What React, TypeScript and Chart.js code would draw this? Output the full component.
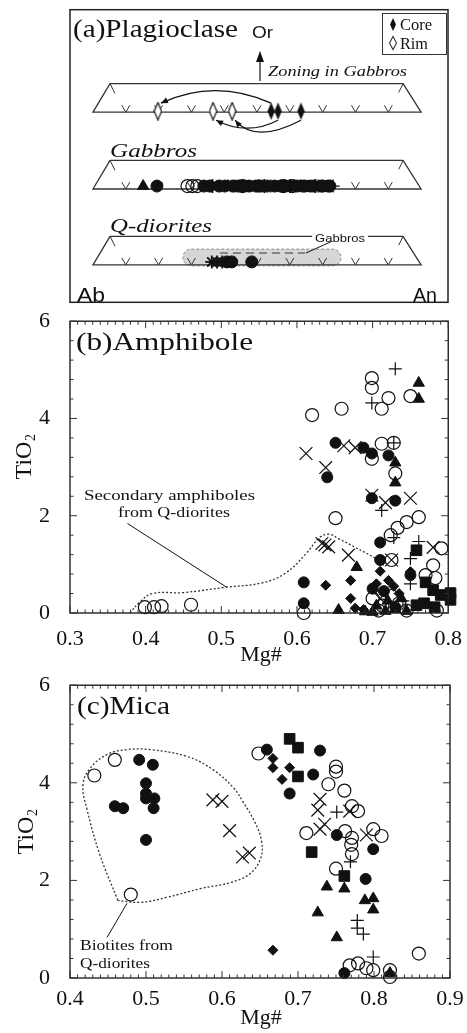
import React, { useEffect, useRef } from 'react';
import { Chart, registerables } from 'chart.js';
Chart.register(...registerables);

const SERIF = '"Liberation Serif", "Times New Roman", serif';
const SANS = '"Liberation Sans", Arial, sans-serif';
const INK = '#111';

// ---------- Panel (a) Plagioclase (An %, schematic rows) ----------
const zoningCoreAn = [54.3, 56.4, 63.4];
const zoningRimAn = [19.8, 36.6, 42.4];
const gabbroOpenCircleAn = [28.8, 30.3, 31.8, 45.5, 58.0, 60.8];
const gabbroFilledCircleAn = [19.5, 33.8, 35.6, 38.4, 40.2, 42.6, 44.2, 46.0, 47.6, 49.6, 50.4, 51.2, 53.0, 55.4, 57.2, 58.6, 62.2, 63.8, 64.6, 66.2, 67.2, 69.6, 70.0, 71.6, 72.2];
const gabbroTriangleAn = [15.3, 41.2, 50.6, 63.2];
const gabbroCrossAn = [37.2, 48.4, 56.2, 66.0, 70.6];
const gabbroPlusAn = [43.2, 54.0, 61.2, 68.6, 73.2];
const gabbroSquareAn = [46.6, 59.2, 65.6, 71.2];
const gabbroStarAn = [36.4, 52.2, 60.0, 67.8];
const qdioriteStarAn = [36.2, 37.8, 39.4];
const qdioriteCircleAn = [40.8, 42.3, 48.4];
const gabbroFieldAn = [27.4, 75.6];
const anTicks = [10, 20, 30, 40, 50, 60, 70, 80, 90];

// ---------- Panel (b) Amphibole: [Mg#, TiO2] ----------
const amphOpenCircle = [[0.399, 0.12], [0.411, 0.12], [0.421, 0.14], [0.46, 0.17], [0.62, 4.07], [0.659, 4.2], [0.699, 4.83], [0.699, 4.63], [0.721, 4.42], [0.712, 4.2], [0.75, 4.46], [0.699, 3.17], [0.712, 3.48], [0.728, 3.5], [0.73, 2.87], [0.651, 1.95], [0.761, 1.97], [0.745, 1.87], [0.733, 1.75], [0.724, 1.6], [0.791, 1.33], [0.725, 1.09], [0.78, 0.98], [0.77, 0.78], [0.783, 0.72], [0.609, 0.0], [0.70, 0.3], [0.713, 0.15], [0.725, 0.35], [0.735, 0.2], [0.745, 0.05], [0.708, 0.05], [0.785, 0.05]];
const amphFilledCircle = [[0.651, 3.5], [0.688, 3.4], [0.699, 3.28], [0.721, 3.24], [0.64, 2.79], [0.699, 2.36], [0.73, 2.31], [0.71, 1.45], [0.71, 1.09], [0.75, 0.78], [0.609, 0.63], [0.609, 0.2], [0.715, 0.45], [0.73, 0.12], [0.70, 0.5]];
const amphTriangle = [[0.761, 4.73], [0.761, 4.4], [0.73, 3.09], [0.73, 2.68], [0.679, 0.94], [0.738, 0.3], [0.655, 0.06], [0.70, 0.02], [0.717, 0.04], [0.73, 0.08], [0.745, 0.04], [0.72, 0.25], [0.705, 0.15], [0.69, 0.03]];
const amphDiamond = [[0.71, 0.86], [0.638, 0.57], [0.671, 0.67], [0.671, 0.3], [0.677, 0.1], [0.688, 0.07], [0.721, 0.67], [0.728, 0.55], [0.75, 0.85], [0.705, 0.6], [0.735, 0.4]];
const amphSquare = [[0.758, 1.29], [0.77, 0.63], [0.78, 0.47], [0.79, 0.37], [0.803, 0.41], [0.803, 0.27], [0.758, 0.16], [0.768, 0.2], [0.782, 0.12]];
const amphPlus = [[0.73, 5.02], [0.699, 4.32], [0.728, 3.5], [0.712, 2.11], [0.728, 1.55], [0.761, 1.47], [0.75, 1.12], [0.75, 0.6], [0.74, 0.25]];
const amphCross = [[0.612, 3.28], [0.662, 3.44], [0.677, 3.4], [0.638, 2.99], [0.699, 2.42], [0.717, 2.27], [0.75, 2.36], [0.633, 1.43], [0.642, 1.36], [0.637, 1.4], [0.668, 1.19], [0.78, 1.35], [0.725, 1.09], [0.71, 0.3]];
const amphSecondaryField = [[0.379, 0.0], [0.392, 0.22], [0.409, 0.4], [0.45, 0.42], [0.506, 0.53], [0.554, 0.62], [0.585, 0.82], [0.612, 1.22], [0.63, 1.55], [0.642, 1.62], [0.656, 1.52], [0.677, 1.35], [0.704, 1.12], [0.715, 0.98]];

// ---------- Panel (c) Mica: [Mg#, TiO2] ----------
const micaOpenCircle = [[0.432, 4.15], [0.459, 4.47], [0.48, 1.71], [0.648, 4.6], [0.75, 4.33], [0.75, 4.23], [0.74, 3.97], [0.761, 3.84], [0.771, 3.52], [0.779, 3.42], [0.711, 2.97], [0.762, 3.01], [0.771, 2.87], [0.77, 2.73], [0.771, 2.54], [0.799, 3.05], [0.81, 2.91], [0.75, 2.24], [0.859, 0.5], [0.768, 0.26], [0.779, 0.3], [0.79, 0.2], [0.799, 0.16], [0.821, 0.16], [0.821, 0.02]];
const micaFilledCircle = [[0.491, 4.47], [0.509, 4.37], [0.5, 3.99], [0.5, 3.78], [0.5, 3.68], [0.511, 3.68], [0.51, 3.48], [0.459, 3.52], [0.47, 3.48], [0.5, 2.83], [0.659, 4.68], [0.689, 3.78], [0.72, 4.17], [0.729, 4.66], [0.751, 2.93], [0.799, 2.64], [0.789, 2.03], [0.761, 0.1]];
const micaDiamond = [[0.667, 4.5], [0.667, 4.31], [0.689, 4.31], [0.679, 4.07], [0.667, 0.57]];
const micaSquare = [[0.689, 4.9], [0.7, 4.72], [0.7, 4.13], [0.718, 2.58], [0.761, 2.09]];
const micaTriangle = [[0.738, 1.87], [0.761, 1.83], [0.788, 1.59], [0.799, 1.63], [0.799, 1.4], [0.726, 1.34], [0.751, 0.83], [0.821, 0.1]];
const micaPlus = [[0.751, 3.4], [0.769, 2.38], [0.778, 1.18], [0.778, 1.02], [0.786, 0.9], [0.799, 0.43]];
const micaCross = [[0.588, 3.65], [0.6, 3.62], [0.61, 3.02], [0.627, 2.48], [0.636, 2.56], [0.729, 3.66], [0.726, 3.44], [0.735, 3.15], [0.729, 3.05], [0.768, 3.42], [0.79, 2.93]];
const micaBiotiteField = [[0.463, 1.59], [0.439, 2.54], [0.422, 3.48], [0.417, 3.95], [0.426, 4.29], [0.449, 4.58], [0.475, 4.68], [0.505, 4.68], [0.554, 4.54], [0.588, 4.27], [0.615, 3.9], [0.628, 3.6], [0.643, 3.2], [0.652, 2.81], [0.651, 2.46], [0.637, 2.14], [0.612, 1.96], [0.571, 1.83], [0.527, 1.65], [0.492, 1.55], [0.463, 1.59]];

// schematic row heights for panel (a) (y scale units)
const ROW_ZONING = 193;
const ROW_GABBRO = 115;
const ROW_QDIOR = 38;

const xy = (arr: number[][]) => arr.map(([x, y]) => ({ x, y }));
const onRow = (an: number[], y: number) => an.map((x) => ({ x, y }));

function fitText(ctx: CanvasRenderingContext2D, text: string, x: number, y: number, font: string, width?: number, align: 'left' | 'center' = 'left') {
  ctx.save();
  ctx.font = font;
  ctx.fillStyle = INK;
  ctx.textBaseline = 'alphabetic';
  ctx.textAlign = 'left';
  const w = ctx.measureText(text).width;
  const s = width ? width / w : 1;
  const left = align === 'center' ? x - (w * s) / 2 : x;
  ctx.translate(left, y);
  ctx.scale(s, 1);
  ctx.fillText(text, 0, 0);
  ctx.restore();
}

function drawTiO2(ctx: CanvasRenderingContext2D, cx: number, cy: number) {
  ctx.save();
  ctx.translate(cx, cy);
  ctx.rotate(-Math.PI / 2);
  ctx.fillStyle = INK;
  ctx.textBaseline = 'alphabetic';
  ctx.font = `24px ${SERIF}`;
  const w1 = ctx.measureText('TiO').width;
  ctx.font = `14px ${SERIF}`;
  const w2 = ctx.measureText('2').width;
  const x0 = -(w1 + w2) / 2;
  ctx.font = `24px ${SERIF}`;
  ctx.fillText('TiO', x0, 8);
  ctx.font = `14px ${SERIF}`;
  ctx.fillText('2', x0 + w1 + 0.5, 12);
  ctx.restore();
}

function line(ctx: CanvasRenderingContext2D, x1: number, y1: number, x2: number, y2: number) {
  ctx.beginPath();
  ctx.moveTo(x1, y1);
  ctx.lineTo(x2, y2);
  ctx.stroke();
}

function arrowHead(ctx: CanvasRenderingContext2D, tx: number, ty: number, fx: number, fy: number, len = 7, half = 3) {
  const a = Math.atan2(ty - fy, tx - fx);
  ctx.beginPath();
  ctx.moveTo(tx, ty);
  ctx.lineTo(tx - len * Math.cos(a) + half * Math.sin(a), ty - len * Math.sin(a) - half * Math.cos(a));
  ctx.lineTo(tx - len * Math.cos(a) - half * Math.sin(a), ty - len * Math.sin(a) + half * Math.cos(a));
  ctx.closePath();
  ctx.fill();
}

function drawFrame(chart: any, xStep: number, xMajor: number, yStep: number, yMajor: number) {
  const { ctx, chartArea: a, scales } = chart;
  const xs = scales.x, ys = scales.y;
  ctx.save();
  ctx.strokeStyle = '#222';
  ctx.lineWidth = 1.4;
  ctx.strokeRect(a.left, a.top, a.right - a.left, a.bottom - a.top);
  ctx.lineWidth = 1;
  ctx.strokeStyle = '#333';
  const nx = Math.round((xs.max - xs.min) / xStep);
  for (let i = 0; i <= nx; i++) {
    const px = xs.getPixelForValue(xs.min + i * xStep);
    const len = i % xMajor === 0 ? 7 : 3.5;
    line(ctx, px, a.bottom, px, a.bottom - len);
    line(ctx, px, a.top, px, a.top + len);
  }
  const ny = Math.round((ys.max - ys.min) / yStep);
  for (let i = 0; i <= ny; i++) {
    const py = ys.getPixelForValue(ys.min + i * yStep);
    const len = i % yMajor === 0 ? 7 : 3.5;
    line(ctx, a.left, py, a.left + len, py);
    line(ctx, a.right, py, a.right - len, py);
  }
  ctx.restore();
}

const markers = {
  open: { pointStyle: 'circle', pointRadius: 6.5, backgroundColor: 'rgba(0,0,0,0)', borderColor: INK, borderWidth: 1.2 },
  filled: { pointStyle: 'circle', pointRadius: 5.5, backgroundColor: INK, borderColor: INK, borderWidth: 1 },
  triangle: { pointStyle: 'triangle', pointRadius: 6.5, backgroundColor: INK, borderColor: INK, borderWidth: 1 },
  diamond: { pointStyle: 'rectRot', pointRadius: 5, backgroundColor: INK, borderColor: INK, borderWidth: 1 },
  square: { pointStyle: 'rect', pointRadius: 7.5, backgroundColor: INK, borderColor: INK, borderWidth: 1 },
  plus: { pointStyle: 'cross', pointRadius: 6.5, backgroundColor: INK, borderColor: INK, borderWidth: 1.2 },
  cross: { pointStyle: 'crossRot', pointRadius: 9, backgroundColor: INK, borderColor: INK, borderWidth: 1.2 },
};

const pointDs = (data: any[], m: any, extra: any = {}) => ({
  data,
  ...m,
  pointHoverRadius: m.pointRadius,
  showLine: false,
  clip: false,
  ...extra,
});

const lineDs = (data: any[], extra: any = {}) => ({
  data,
  showLine: true,
  pointRadius: 0,
  pointHoverRadius: 0,
  borderColor: '#333',
  borderWidth: 1.3,
  tension: 0,
  fill: false,
  clip: false,
  ...extra,
});

function scatterOptions(xmin: number, xmax: number, pad: any, xHeight: number, xPad: number) {
  const tickFont = { family: SERIF, size: 22, lineHeight: 1.2 };
  return {
    responsive: false,
    animation: false,
    events: [],
    layout: { padding: pad },
    plugins: { legend: { display: false }, tooltip: { enabled: false } },
    scales: {
      x: {
        type: 'linear',
        min: xmin,
        max: xmax,
        afterFit: (s: any) => { s.height = xHeight; },
        grid: { display: false },
        border: { display: false },
        ticks: { stepSize: 0.1, padding: xPad, color: INK, font: tickFont, maxRotation: 0, autoSkip: false, callback: (v: any) => Number(v).toFixed(1) },
      },
      y: {
        type: 'linear',
        min: 0,
        max: 6,
        afterFit: (s: any) => { s.width = 70; },
        grid: { display: false },
        border: { display: false },
        ticks: { stepSize: 2, padding: 12, color: INK, font: tickFont, callback: (v: any) => String(Math.round(Number(v))) },
      },
    },
  };
}

export default function App() {
  const aRef = useRef<HTMLCanvasElement>(null);
  const bRef = useRef<HTMLCanvasElement>(null);
  const cRef = useRef<HTMLCanvasElement>(null);

  useEffect(() => {
    const makeDiamond = (filled: boolean) => {
      const c = document.createElement('canvas');
      c.width = 9; c.height = 19;
      const g = c.getContext('2d')!;
      g.beginPath();
      g.moveTo(4.5, 0.8); g.lineTo(8.2, 9.5); g.lineTo(4.5, 18.2); g.lineTo(0.8, 9.5); g.closePath();
      if (filled) { g.fillStyle = INK; g.fill(); }
      else { g.fillStyle = '#fff'; g.fill(); g.strokeStyle = INK; g.lineWidth = 1.2; g.stroke(); }
      return c;
    };
    const coreImg = makeDiamond(true);
    const rimImg = makeDiamond(false);

    // ----- panel (a) -----
    const aDatasets: any[] = [];
    [ROW_ZONING, ROW_GABBRO, ROW_QDIOR].forEach((b) => {
      const t = b + 29;
      aDatasets.push(lineDs([{ x: 5.2, y: t }, { x: 0, y: b }, { x: 100, y: b }, { x: 94.5, y: t }]));
      if (b === ROW_QDIOR) {
        aDatasets.push(lineDs([{ x: 5.2, y: t }, { x: 66.8, y: t }]));
        aDatasets.push(lineDs([{ x: 83.8, y: t }, { x: 94.5, y: t }]));
      } else {
        aDatasets.push(lineDs([{ x: 5.2, y: t }, { x: 94.5, y: t }]));
      }
      aDatasets.push(lineDs([{ x: 5.2, y: t }, { x: 6.7, y: t - 10 }], { borderWidth: 1 }));
      aDatasets.push(lineDs([{ x: 94.5, y: t }, { x: 93.2, y: t - 9 }], { borderWidth: 1 }));
      anTicks.forEach((a) => {
        aDatasets.push(lineDs([{ x: a - 1.22, y: b + 7 }, { x: a, y: b }, { x: a + 1.22, y: b + 7 }], { borderWidth: 1 }));
      });
    });
    const small = (m: any, r: number) => ({ ...m, pointRadius: r });
    aDatasets.unshift(
      pointDs(onRow(zoningCoreAn, ROW_ZONING + 1), { pointStyle: coreImg, pointRadius: 5, backgroundColor: INK, borderColor: INK, borderWidth: 0 }),
      pointDs(onRow(zoningRimAn, ROW_ZONING + 1), { pointStyle: rimImg, pointRadius: 5, backgroundColor: '#fff', borderColor: INK, borderWidth: 0 }),
      pointDs(onRow(gabbroOpenCircleAn, ROW_GABBRO + 3), small(markers.open, 6.5)),
      pointDs(onRow(gabbroFilledCircleAn, ROW_GABBRO + 3), small(markers.filled, 6)),
      pointDs(onRow(gabbroTriangleAn, ROW_GABBRO + 3), small(markers.triangle, 6.5)),
      pointDs(onRow(gabbroCrossAn, ROW_GABBRO + 3), small(markers.cross, 8.5)),
      pointDs(onRow(gabbroPlusAn, ROW_GABBRO + 3), small(markers.plus, 6.5)),
      pointDs(onRow(gabbroSquareAn, ROW_GABBRO + 3), small(markers.square, 7.5)),
      pointDs(onRow(gabbroStarAn, ROW_GABBRO + 3), { pointStyle: 'star', pointRadius: 7, backgroundColor: INK, borderColor: INK, borderWidth: 1.8 }),
      pointDs(onRow(qdioriteStarAn, ROW_QDIOR + 3), { pointStyle: 'star', pointRadius: 6.5, backgroundColor: INK, borderColor: INK, borderWidth: 1.8 }),
      pointDs(onRow(qdioriteCircleAn, ROW_QDIOR + 3), small(markers.filled, 6)),
    );

    const plagPlugin = {
      id: 'plagDeco',
      beforeDatasetsDraw(chart: any) {
        const { ctx, scales } = chart;
        const xs = scales.x, ys = scales.y;
        const x0 = xs.getPixelForValue(gabbroFieldAn[0]);
        const x1 = xs.getPixelForValue(gabbroFieldAn[1]);
        const yT = ys.getPixelForValue(ROW_QDIOR + 16);
        const yB = ys.getPixelForValue(ROW_QDIOR - 1);
        const r = (yB - yT) / 2;
        ctx.save();
        ctx.beginPath();
        ctx.moveTo(x0 + r, yT);
        ctx.lineTo(x1 - r, yT);
        ctx.arc(x1 - r, yT + r, r, -Math.PI / 2, Math.PI / 2);
        ctx.lineTo(x0 + r, yB);
        ctx.arc(x0 + r, yT + r, r, Math.PI / 2, (3 * Math.PI) / 2);
        ctx.closePath();
        ctx.fillStyle = '#d6d6d6';
        ctx.fill();
        ctx.setLineDash([3, 2]);
        ctx.strokeStyle = '#777';
        ctx.lineWidth = 0.8;
        ctx.stroke();
        ctx.setLineDash([8, 5]);
        ctx.strokeStyle = '#333';
        ctx.lineWidth = 1;
        const yd = ys.getPixelForValue(ROW_QDIOR + 12);
        line(ctx, xs.getPixelForValue(38.7), yd, xs.getPixelForValue(64.6), yd);
        ctx.restore();
      },
      afterDraw(chart: any) {
        const { ctx, chartArea: a, scales } = chart;
        const xs = scales.x, ys = scales.y;
        ctx.save();
        ctx.strokeStyle = '#222';
        ctx.lineWidth = 1.5;
        ctx.strokeRect(a.left, a.top, a.right - a.left, a.bottom - a.top);

        // zoning arrows (core -> rim)
        const rowPx = ys.getPixelForValue(ROW_ZONING);
        ctx.strokeStyle = INK;
        ctx.fillStyle = INK;
        ctx.lineWidth = 1.2;
        const arcs = [
          { c: 0, dy: -9, cdy: -34, cx: 215 },
          { c: 1, dy: 8, cdy: 24, cx: 247 },
          { c: 2, dy: 8, cdy: 32, cx: 255 },
        ];
        arcs.forEach(({ c, dy, cdy, cx }) => {
          const sx = xs.getPixelForValue(zoningCoreAn[c]);
          const ex = xs.getPixelForValue(zoningRimAn[c]) + 3;
          const sy = rowPx + dy, ey = rowPx + dy;
          const qy = rowPx + cdy;
          ctx.beginPath();
          ctx.moveTo(sx, sy);
          ctx.quadraticCurveTo(cx, qy, ex, ey);
          ctx.stroke();
          arrowHead(ctx, ex, ey, cx, qy, 7, 3);
        });

        // Or arrow
        line(ctx, 260, 81, 260, 60);
        ctx.beginPath();
        ctx.moveTo(260, 51); ctx.lineTo(256, 62); ctx.lineTo(264, 62); ctx.closePath();
        ctx.fill();

        // legend box
        ctx.lineWidth = 1;
        ctx.strokeStyle = '#333';
        ctx.strokeRect(382.5, 13.5, 64, 41);
        ctx.fillStyle = INK;
        ctx.beginPath();
        ctx.moveTo(393, 18); ctx.lineTo(396, 24.5); ctx.lineTo(393, 31); ctx.lineTo(390, 24.5); ctx.closePath();
        ctx.fill();
        ctx.beginPath();
        ctx.moveTo(393, 36.5); ctx.lineTo(396.5, 43); ctx.lineTo(393, 49.5); ctx.lineTo(389.5, 43); ctx.closePath();
        ctx.lineWidth = 1.1;
        ctx.stroke();
        fitText(ctx, 'Core', 400, 30, `16px ${SERIF}`, 32);
        fitText(ctx, 'Rim', 400, 48.5, `16px ${SERIF}`, 28);

        // texts
        fitText(ctx, '(a)Plagioclase', 73, 37, `25px ${SERIF}`, 165);
        fitText(ctx, 'Or', 252, 38, `16px ${SANS}`, 21);
        fitText(ctx, 'Zoning in Gabbros', 268, 76, `italic 14px ${SERIF}`, 139);
        fitText(ctx, 'Gabbros', 110, 157, `italic 19px ${SERIF}`, 87);
        fitText(ctx, 'Q-diorites', 110, 232, `italic 19px ${SERIF}`, 102);
        fitText(ctx, 'Gabbros', 315, 242, `11px ${SANS}`, 50);
        fitText(ctx, 'Ab', 77, 301.5, `20px ${SANS}`, 28);
        fitText(ctx, 'An', 413, 302, `20px ${SANS}`, 24);

        // leader from "Gabbros" field label
        ctx.strokeStyle = INK;
        ctx.lineWidth = 1;
        line(ctx, xs.getPixelForValue(72.9), ys.getPixelForValue(ROW_QDIOR + 24), xs.getPixelForValue(64.9), ys.getPixelForValue(ROW_QDIOR + 12));
        ctx.restore();
      },
    };

    const chartA = new Chart(aRef.current!, {
      type: 'scatter',
      data: { datasets: aDatasets },
      options: {
        responsive: false,
        animation: false,
        events: [],
        layout: { padding: { left: 70, right: 19, top: 8, bottom: 7 } },
        plugins: { legend: { display: false }, tooltip: { enabled: false } },
        scales: {
          x: { type: 'linear', min: -7.0, max: 108.2, display: false },
          y: { type: 'linear', min: 0, max: 297, display: false },
        },
      } as any,
      plugins: [plagPlugin],
    } as any);

    // ----- panel (b) -----
    const B_TOP = 296;
    const amphPlugin = {
      id: 'amphDeco',
      afterDraw(chart: any) {
        const { ctx, scales } = chart;
        drawFrame(chart, 0.01, 10, 0.4, 5);
        fitText(ctx, '(b)Amphibole', 76, 350 - B_TOP, `25px ${SERIF}`, 177);
        fitText(ctx, 'Secondary amphiboles', 84, 500 - B_TOP, `15px ${SERIF}`, 171);
        fitText(ctx, 'from Q-diorites', 118, 517 - B_TOP, `15px ${SERIF}`, 112);
        drawTiO2(ctx, 23, 457 - B_TOP);
        fitText(ctx, 'Mg#', 261, 661 - B_TOP, `22px ${SERIF}`, undefined, 'center');
        ctx.save();
        ctx.strokeStyle = INK;
        ctx.lineWidth = 1;
        line(ctx, scales.x.getPixelForValue(0.376), scales.y.getPixelForValue(1.84), scales.x.getPixelForValue(0.507), scales.y.getPixelForValue(0.53));
        ctx.restore();
      },
    };
    const chartB = new Chart(bRef.current!, {
      type: 'scatter',
      data: {
        datasets: [
          pointDs(xy(amphCross), markers.cross),
          pointDs(xy(amphPlus), markers.plus),
          pointDs(xy(amphOpenCircle), markers.open),
          pointDs(xy(amphFilledCircle), markers.filled),
          pointDs(xy(amphTriangle), markers.triangle),
          pointDs(xy(amphDiamond), markers.diamond),
          pointDs(xy(amphSquare), markers.square),
          lineDs(xy(amphSecondaryField), { borderDash: [2, 2], borderWidth: 1.3, tension: 0.4, borderColor: '#333' }),
        ],
      },
      options: scatterOptions(0.3, 0.8, { left: 0, right: 17, top: 24, bottom: 18 }, 45, 5) as any,
      plugins: [amphPlugin],
    } as any);

    // ----- panel (c) -----
    const C_TOP = 660;
    const micaPlugin = {
      id: 'micaDeco',
      afterDraw(chart: any) {
        const { ctx, scales } = chart;
        drawFrame(chart, 0.01, 10, 0.4, 5);
        fitText(ctx, '(c)Mica', 77, 714 - C_TOP, `25px ${SERIF}`, 93);
        fitText(ctx, 'Biotites from', 80, 950 - C_TOP, `15px ${SERIF}`, 93);
        fitText(ctx, 'Q-diorites', 80, 968 - C_TOP, `15px ${SERIF}`, 70);
        drawTiO2(ctx, 25, 832 - C_TOP);
        fitText(ctx, 'Mg#', 261, 1024 - C_TOP, `22px ${SERIF}`, undefined, 'center');
        ctx.save();
        ctx.strokeStyle = INK;
        ctx.lineWidth = 1;
        line(ctx, scales.x.getPixelForValue(0.4487), scales.y.getPixelForValue(0.83), scales.x.getPixelForValue(0.475), scales.y.getPixelForValue(1.53));
        ctx.restore();
      },
    };
    const chartC = new Chart(cRef.current!, {
      type: 'scatter',
      data: {
        datasets: [
          pointDs(xy(micaCross), markers.cross),
          pointDs(xy(micaPlus), markers.plus),
          pointDs(xy(micaOpenCircle), markers.open),
          pointDs(xy(micaFilledCircle), markers.filled),
          pointDs(xy(micaTriangle), markers.triangle),
          pointDs(xy(micaDiamond), markers.diamond),
          pointDs(xy(micaSquare), markers.square),
          lineDs(xy(micaBiotiteField), { borderDash: [2, 2], borderWidth: 1.3, tension: 0.4, borderColor: '#333' }),
        ],
      },
      options: scatterOptions(0.4, 0.9, { left: 0, right: 17, top: 23, bottom: 15 }, 40, 0) as any,
      plugins: [micaPlugin],
    } as any);

    return () => {
      chartA.destroy();
      chartB.destroy();
      chartC.destroy();
    };
  }, []);

  return (
    <div style={{ position: 'absolute', left: 0, top: 0, width: 467, height: 1033, background: '#fff', overflow: 'hidden' }}>
      <canvas ref={aRef} width={467} height={312} style={{ position: 'absolute', left: 0, top: 0 }} />
      <canvas ref={bRef} width={467} height={380} style={{ position: 'absolute', left: 0, top: 296 }} />
      <canvas ref={cRef} width={467} height={373} style={{ position: 'absolute', left: 0, top: 660 }} />
    </div>
  );
}
